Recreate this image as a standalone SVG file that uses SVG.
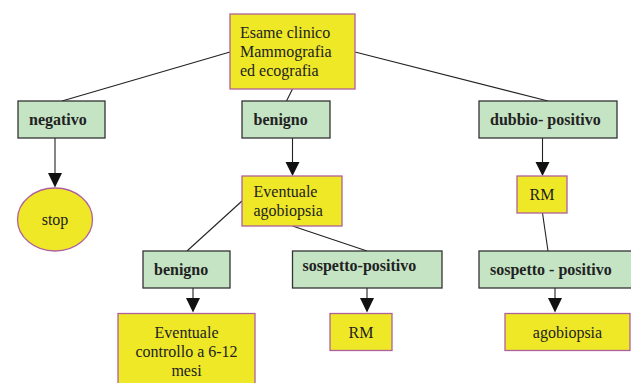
<svg xmlns="http://www.w3.org/2000/svg" width="631" height="383" viewBox="0 0 631 383">
<defs>
<style>
.y{fill:#EEE826;stroke:#B0609A;stroke-width:1.3}
.g{fill:#C4E4C4;stroke:#333;stroke-width:1.3}
.t{font-family:"Liberation Serif",serif;font-size:16px;fill:#222}
.b{font-family:"Liberation Serif",serif;font-size:16px;font-weight:bold;fill:#222}
.c{stroke:#222;stroke-width:1.1;fill:none}
.a{fill:#111}
</style>
</defs>
<g id="connectors">
<line class="c" x1="230" y1="52" x2="62" y2="101"/>
<line class="c" x1="292.5" y1="89" x2="286.5" y2="101"/>
<line class="c" x1="355" y1="52" x2="548" y2="101"/>
<line class="c" x1="55" y1="138" x2="55" y2="174"/>
<polygon class="a" points="48,173 62,173 55,187.5"/>
<line class="c" x1="292.5" y1="138" x2="292.5" y2="163"/>
<polygon class="a" points="285.5,162 299.5,162 292.5,176"/>
<line class="c" x1="542.5" y1="138" x2="542.5" y2="163"/>
<polygon class="a" points="535.5,162 549.5,162 542.5,176"/>
<line class="c" x1="242" y1="201" x2="187" y2="251"/>
<line class="c" x1="292.5" y1="226" x2="367" y2="251"/>
<line class="c" x1="542.5" y1="213" x2="548" y2="251"/>
<line class="c" x1="193" y1="288" x2="193" y2="299"/>
<polygon class="a" points="186,298 200,298 193,312.5"/>
<line class="c" x1="367" y1="288" x2="367" y2="299"/>
<polygon class="a" points="360,298 374,298 367,312.5"/>
<line class="c" x1="555" y1="288" x2="555" y2="299"/>
<polygon class="a" points="548,298 562,298 555,312.5"/>
</g>
<g id="esame">
<rect class="y" x="230" y="14" width="125" height="75"/>
<text class="t" x="240" y="38">Esame clinico</text>
<text class="t" x="240" y="57">Mammografia</text>
<text class="t" x="240" y="76">ed ecografia</text>
</g>
<g id="negativo">
<rect class="g" x="18" y="101" width="87" height="37"/>
<text class="b" x="29" y="125">negativo</text>
</g>
<g id="benigno1">
<rect class="g" x="242" y="101" width="88" height="37"/>
<text class="b" x="253.5" y="125">benigno</text>
</g>
<g id="dubbio">
<rect class="g" x="479" y="101" width="138" height="37"/>
<text class="b" x="490" y="125">dubbio- positivo</text>
</g>
<g id="stop">
<ellipse class="y" cx="55" cy="219.5" rx="37.5" ry="31.5"/>
<text class="t" x="55" y="225" text-anchor="middle">stop</text>
</g>
<g id="agobiopsia1">
<rect class="y" x="242" y="176" width="100" height="50"/>
<text class="t" x="253.5" y="197">Eventuale</text>
<text class="t" x="253.5" y="216">agobiopsia</text>
</g>
<g id="rm1">
<rect class="y" x="517" y="176" width="50" height="37"/>
<text class="t" x="542" y="200" text-anchor="middle">RM</text>
</g>
<g id="benigno2">
<rect class="g" x="143" y="251" width="87" height="37"/>
<text class="b" x="154" y="275">benigno</text>
</g>
<g id="sospetto1">
<rect class="g" x="292.5" y="251" width="149.5" height="37"/>
<text class="b" x="302.5" y="271">sospetto-positivo</text>
</g>
<g id="sospetto2">
<rect class="g" x="479" y="251" width="155" height="37"/>
<text class="b" x="490" y="275">sospetto - positivo</text>
</g>
<g id="controllo">
<rect class="y" x="118" y="313.5" width="137" height="75"/>
<text class="t" x="186.5" y="338" text-anchor="middle">Eventuale</text>
<text class="t" x="186.5" y="357" text-anchor="middle">controllo a 6-12</text>
<text class="t" x="186.5" y="376" text-anchor="middle">mesi</text>
</g>
<g id="rm2">
<rect class="y" x="330" y="313.5" width="62" height="37"/>
<text class="t" x="361" y="338" text-anchor="middle">RM</text>
</g>
<g id="agobiopsia2">
<rect class="y" x="505" y="313.5" width="125" height="37"/>
<text class="t" x="567.5" y="338" text-anchor="middle">agobiopsia</text>
</g>
</svg>
